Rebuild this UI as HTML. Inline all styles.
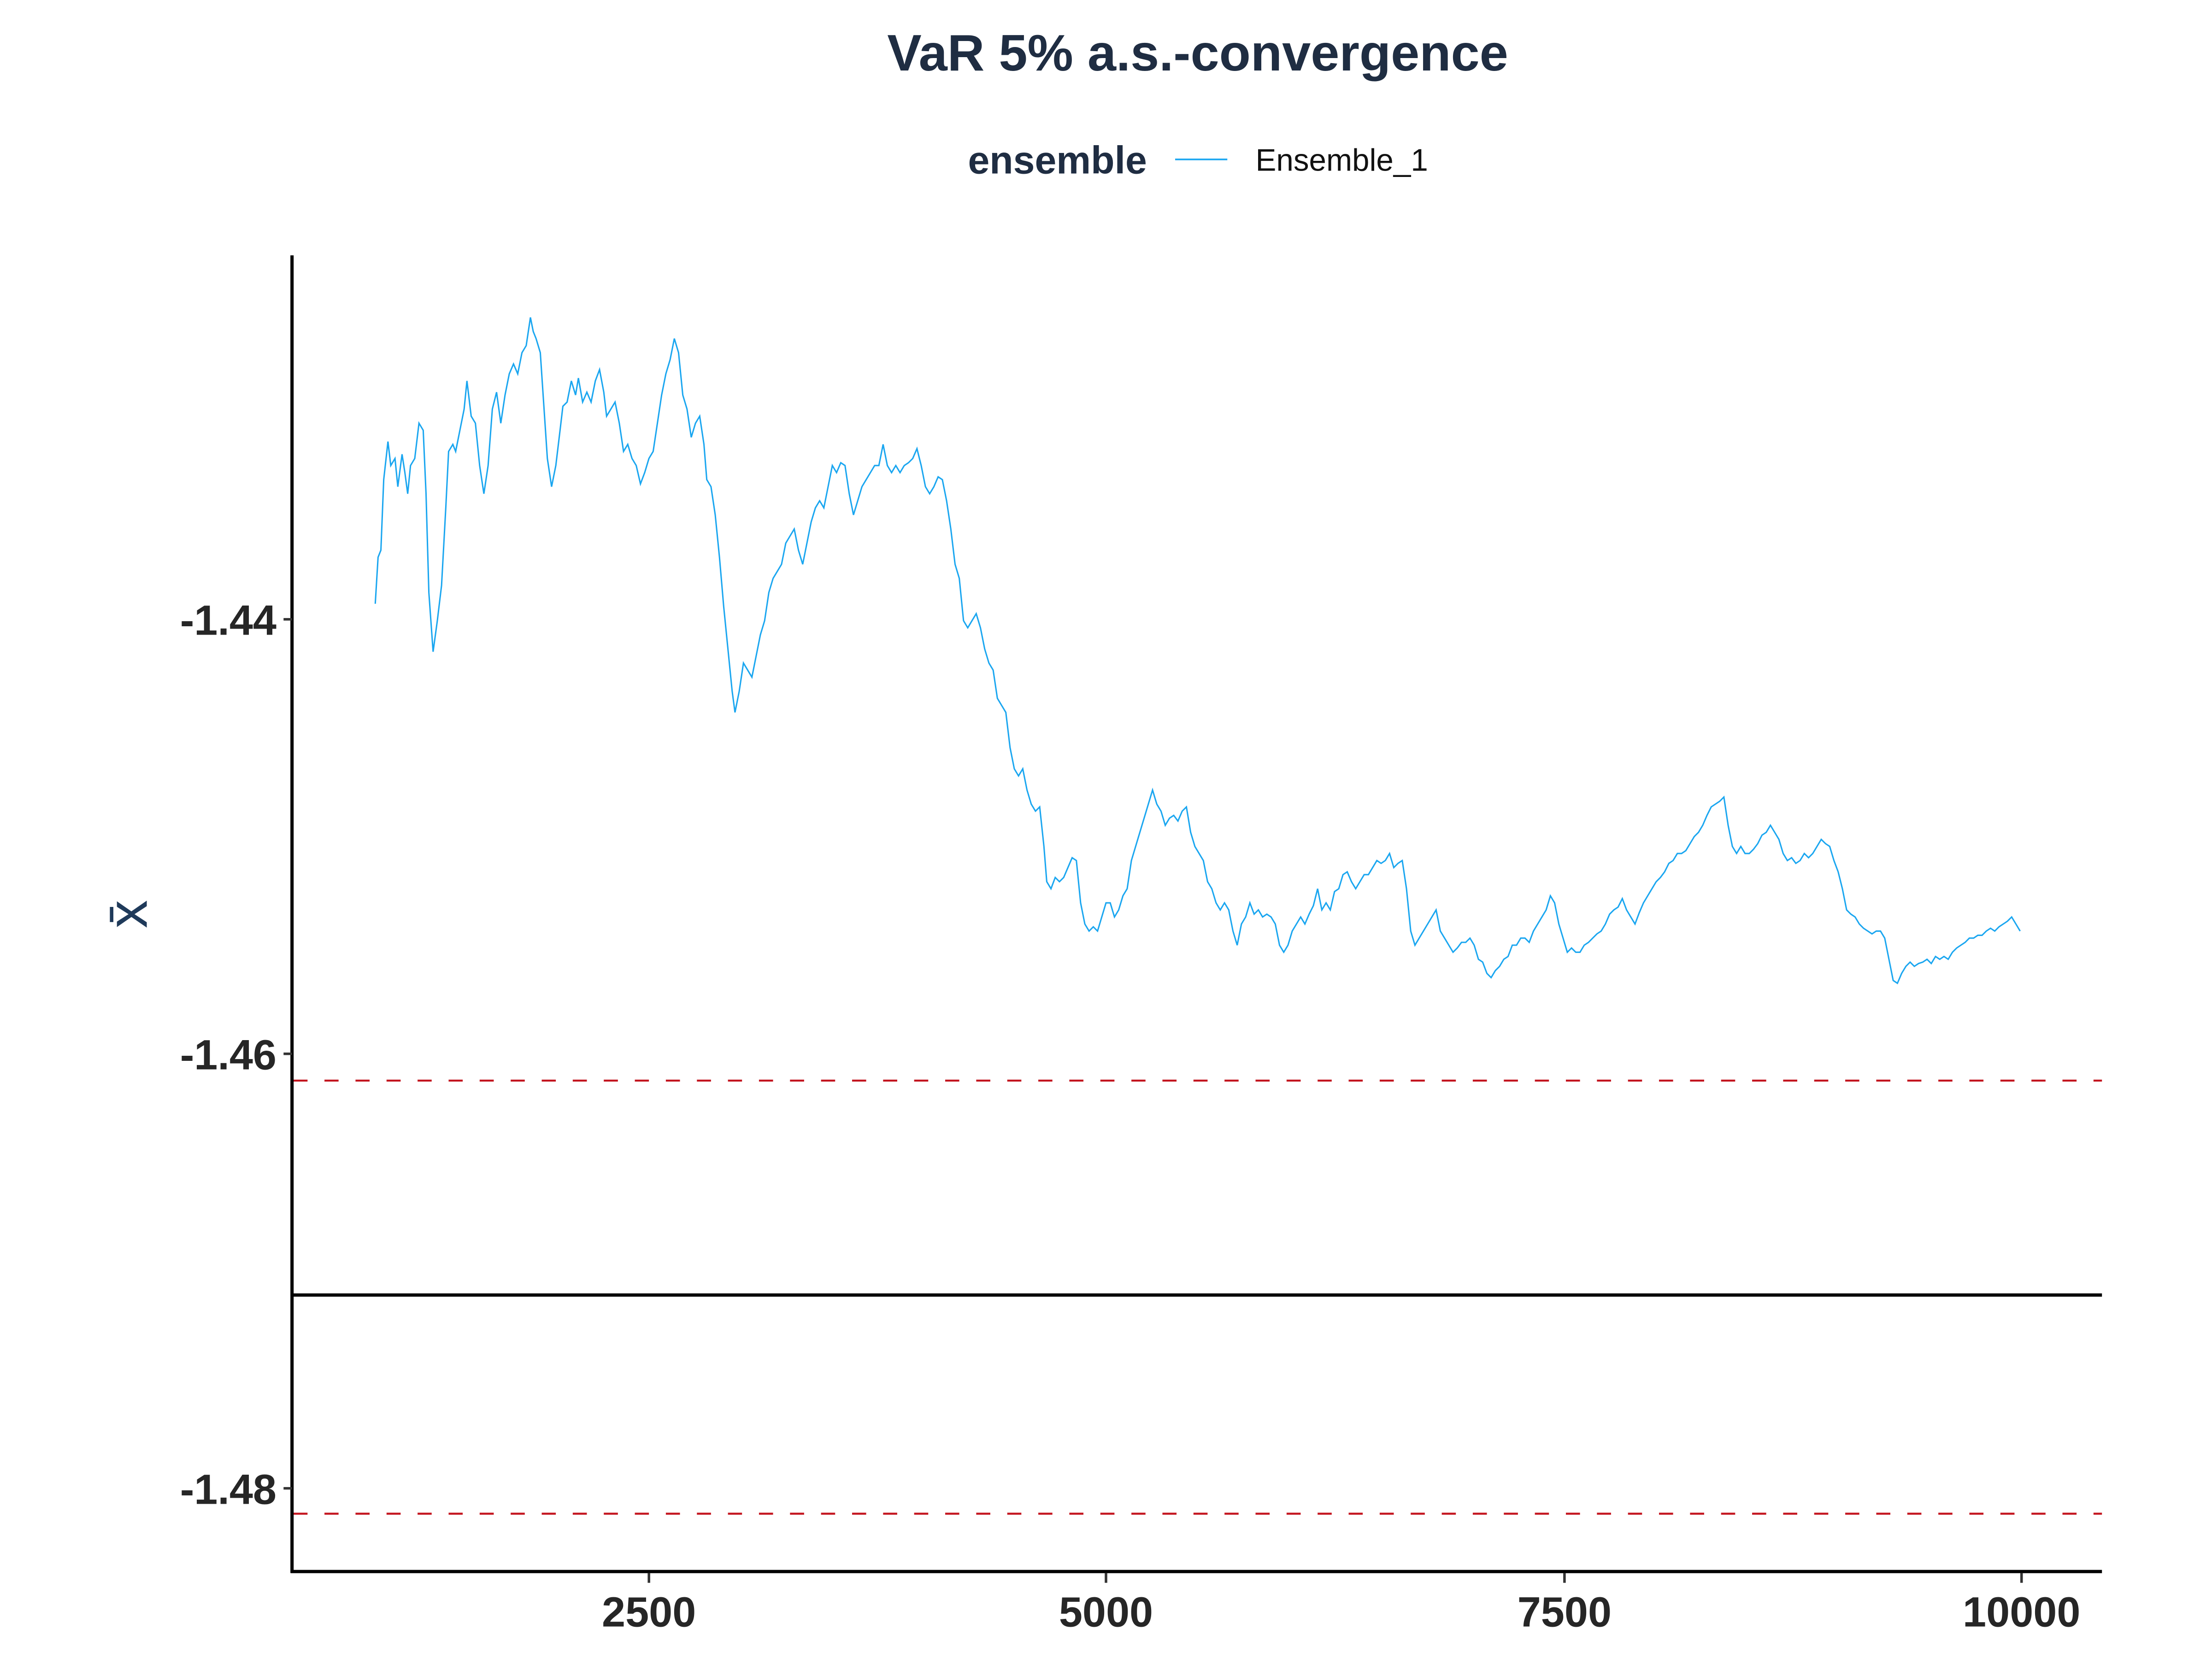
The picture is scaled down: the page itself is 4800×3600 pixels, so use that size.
<!DOCTYPE html>
<html><head><meta charset="utf-8"><style>html,body{margin:0;padding:0;background:#fff}svg{display:block}</style></head>
<body>
<svg width="4800" height="3600" viewBox="0 0 1568 1176" xmlns="http://www.w3.org/2000/svg" font-family="Liberation Sans, sans-serif">
<rect width="1568" height="1176" fill="#fff"/>
<text x="849" y="50" text-anchor="middle" font-size="36.5" font-weight="bold" fill="#1F2D42">VaR 5% a.s.-convergence</text>
<text x="813" y="123" text-anchor="end" font-size="27.5" font-weight="bold" fill="#1F2D42">ensemble</text>
<line x1="833" y1="113" x2="870" y2="113" stroke="#1AA6F0" stroke-width="1.2"/>
<text x="890" y="121" font-size="22" fill="#111">Ensemble_1</text>
<text transform="translate(104,648) rotate(-90)" text-anchor="middle" font-size="40" fill="#1F3A5A">x̄</text>
<line x1="208" y1="766" x2="1490" y2="766" stroke="#C3141E" stroke-width="1.4" stroke-dasharray="10,12"/>
<line x1="208" y1="1073" x2="1490" y2="1073" stroke="#C3141E" stroke-width="1.4" stroke-dasharray="10,12"/>
<line x1="208" y1="918" x2="1490" y2="918" stroke="#000" stroke-width="2.3"/>
<polyline fill="none" stroke="#1AA6F0" stroke-width="1" points="266,428 268,395 270,390 272,340 275,313 277,330 280,325 282,345 285,322 287,335 289,350 291,330 294,325 297,300 300,305 302,350 304,420 307,462 310,440 313,415 316,360 318,320 321,315 323,320 326,305 329,290 331,270 334,295 337,300 340,330 343,350 346,330 349,290 352,278 355,300 358,280 361,265 364,258 367,265 370,250 373,245 376,225 378,235 380,240 383,250 385,280 388,325 391,345 394,330 397,305 399,288 402,285 405,270 408,280 410,268 413,285 416,278 419,285 422,270 425,262 428,278 430,295 433,290 436,285 439,300 442,320 445,315 448,325 451,330 454,343 457,335 460,325 463,320 466,300 469,280 472,265 475,255 478,240 481,250 484,280 487,290 490,310 493,300 496,295 499,315 501,340 504,345 507,365 510,395 513,430 516,460 519,490 521,505 524,490 527,470 530,475 533,480 536,465 539,450 542,440 545,420 548,410 551,405 554,400 557,385 560,380 563,375 566,390 569,400 572,385 575,370 578,360 581,355 584,360 587,345 590,330 593,335 596,328 599,330 602,350 605,365 608,355 611,345 614,340 617,335 620,330 623,330 626,315 629,330 632,335 635,330 638,335 641,330 644,328 647,325 650,318 653,330 656,345 659,350 662,345 665,338 668,340 671,355 674,375 677,400 680,410 683,440 686,445 689,440 692,435 695,445 698,460 701,470 704,475 707,495 710,500 713,505 716,530 719,545 722,550 725,545 728,560 731,570 734,575 737,572 740,600 742,625 745,630 748,622 751,625 754,622 757,615 760,608 763,610 766,640 769,655 772,660 775,657 778,660 781,650 784,640 787,640 790,650 793,645 796,635 799,630 802,610 805,600 808,590 811,580 814,570 817,560 820,570 823,575 826,585 829,580 832,578 835,582 838,575 841,572 844,590 847,600 850,605 853,610 856,625 859,630 862,640 865,645 868,640 871,645 874,660 877,670 880,655 883,650 886,640 889,648 892,645 895,650 898,648 901,650 904,655 907,670 910,675 913,670 916,660 919,655 922,650 925,655 928,648 931,642 934,630 937,645 940,640 943,645 946,632 949,630 952,620 955,618 958,625 961,630 964,625 967,620 970,620 973,615 976,610 979,612 982,610 985,605 988,615 991,612 994,610 997,630 1000,660 1003,670 1006,665 1009,660 1012,655 1015,650 1018,645 1021,660 1024,665 1027,670 1030,675 1033,672 1036,668 1039,668 1042,665 1045,670 1048,680 1051,682 1054,690 1057,693 1060,688 1063,685 1066,680 1069,678 1072,670 1075,670 1078,665 1081,665 1084,668 1087,660 1090,655 1093,650 1096,645 1099,635 1102,640 1105,655 1108,665 1111,675 1114,672 1117,675 1120,675 1123,670 1126,668 1129,665 1132,662 1135,660 1138,655 1141,648 1144,645 1147,643 1150,637 1153,645 1156,650 1159,655 1162,647 1165,640 1168,635 1171,630 1174,625 1177,622 1180,618 1183,612 1186,610 1189,605 1192,605 1195,603 1198,598 1201,593 1204,590 1207,585 1210,578 1213,572 1216,570 1219,568 1222,565 1225,585 1228,600 1231,605 1234,600 1237,605 1240,605 1243,602 1246,598 1249,592 1252,590 1255,585 1258,590 1261,595 1264,605 1267,610 1270,608 1273,612 1276,610 1279,605 1282,608 1285,605 1288,600 1291,595 1294,598 1297,600 1300,610 1303,618 1306,630 1309,645 1312,648 1315,650 1318,655 1321,658 1324,660 1327,662 1330,660 1333,660 1336,665 1339,680 1342,695 1345,697 1348,690 1351,685 1354,682 1357,685 1360,683 1363,682 1366,680 1369,683 1372,678 1375,680 1378,678 1381,680 1384,675 1387,672 1390,670 1393,668 1396,665 1399,665 1402,663 1405,663 1408,660 1411,658 1414,660 1417,657 1420,655 1423,653 1426,650 1429,655 1432,660"/>
<line x1="207" y1="181" x2="207" y2="1115" stroke="#000" stroke-width="2.3"/>
<line x1="206" y1="1114" x2="1490" y2="1114" stroke="#000" stroke-width="2.3"/>
<g stroke="#333" stroke-width="1.8">
<line x1="201" y1="439" x2="207" y2="439"/><line x1="201" y1="747" x2="207" y2="747"/><line x1="201" y1="1055" x2="207" y2="1055"/>
<line x1="460" y1="1115" x2="460" y2="1122"/><line x1="784" y1="1115" x2="784" y2="1122"/><line x1="1109" y1="1115" x2="1109" y2="1122"/><line x1="1433" y1="1115" x2="1433" y2="1122"/>
</g>
<g font-size="30" font-weight="bold" fill="#262626">
<text x="196" y="450" text-anchor="end">-1.44</text>
<text x="196" y="758" text-anchor="end">-1.46</text>
<text x="196" y="1066" text-anchor="end">-1.48</text>
<g text-anchor="middle"><text x="460" y="1153">2500</text><text x="784" y="1153">5000</text><text x="1109" y="1153">7500</text><text x="1433" y="1153">10000</text></g>
</g>
</svg>
</body></html>
